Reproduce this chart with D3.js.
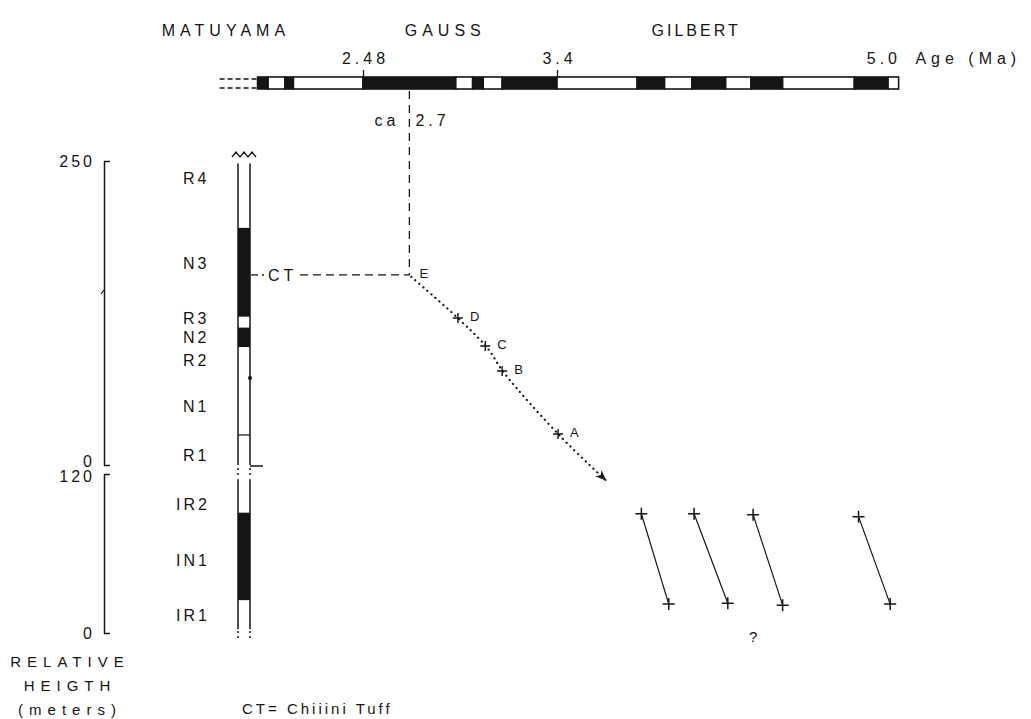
<!DOCTYPE html>
<html><head><meta charset="utf-8">
<script src="https://cdn.jsdelivr.net/npm/d3@7"></script>
<style>
body{margin:0;background:#fff}
svg{display:block}
text{font-family:"Liberation Sans",Arial,Helvetica,sans-serif;fill:#151515}
</style>
</head><body>
<svg id="chart" width="1031" height="719"></svg>
<script>
// ---------- DATA ----------
const epochNames = ["MATUYAMA", "GAUSS", "GILBERT"];
const epochAges = [1.83, 2.87, 4.06];

const ageTicks = [2.48, 3.4, 5.0];
const ageTickLabels = ["2.48", "3.4", "5.0"];
const ageUnit = "Age (Ma)";

// polarity time scale (Ma); 1 = normal (black), 0 = reversed (white)
const chronStart = [1.98, 2.03, 2.11, 2.15, 2.48, 2.92, 3.00, 3.05, 3.14, 3.40, 3.78, 3.91, 4.04, 4.20, 4.32, 4.47, 4.81, 4.97];
const chronEnd   = [2.03, 2.11, 2.15, 2.48, 2.92, 3.00, 3.05, 3.14, 3.40, 3.78, 3.91, 4.04, 4.20, 4.32, 4.47, 4.81, 4.97, 5.02];
const chronNormal = [1, 0, 1, 0, 1, 0, 1, 0, 1, 0, 1, 0, 1, 0, 1, 0, 1, 0];
const scaleExtendFrom = 1.80;

// upper section (relative height, m)
const upperTicks = [0, 250];
const upperLabels = ["R4", "N3", "R3", "N2", "R2", "N1", "R1"];
const upperLabelHeights = [236, 166, 121, 105, 86, 48, 8];
const upperNormalFrom = [97, 122];
const upperNormalTo = [113, 195];
const upperBoundary = [24.7];
const upperTop = 248;

// lower section (relative height, m)
const lowerTicks = [0, 120];
const lowerLabels = ["IR2", "IN1", "IR1"];
const lowerLabelHeights = [97.5, 54.8, 13.5];
const lowerNormalFrom = [24.8];
const lowerNormalTo = [90.8];
const lowerTop = 116;
const lowerBottom = 3;

// Chiiini Tuff correlation
const ctAge = 2.70;
const ctHeight = 156.3;
const ctLabel = "CT";
const ctAgeLabel = ["ca", "2.7"];

// correlation points (upper section)
const corrLabels = ["E", "D", "C", "B", "A"];
const corrAges = [2.70, 2.93, 3.06, 3.14, 3.405];
const corrHeights = [156.3, 120.9, 97.9, 77.3, 25.5];
const trendEndAge = 3.63;
const trendEndHeight = -12.3;

// lower section pairs
const pairTopAges = [3.80, 4.05, 4.33, 4.83];
const pairTopHeights = [90, 90, 89.3, 87.8];
const pairBotAges = [3.93, 4.21, 4.47, 4.98];
const pairBotHeights = [21.8, 22.5, 21.0, 21.8];
const unknownAge = 4.33, unknownHeight = -2.5;

const yTitle = ["RELATIVE", "HEIGTH", "(meters)"];
const footnote = "CT= Chiiini Tuff";

// ---------- SCALES ----------
const svg = d3.select("#chart");
const ink = "#151515";
const x = d3.scaleLinear().domain([2.48, 3.4]).range([363, 557]);
const yU = d3.scaleLinear().domain([0, 250]).range([465, 161]);
const yL = d3.scaleLinear().domain([0, 120]).range([633, 474]);

const barTop = 77, barH = 12;
const colX = 238, colW = 12;
const axisX = 104;

// ---------- EPOCH NAMES ----------
svg.append("g").selectAll("text").data(epochNames).join("text")
  .attr("x", (d, i) => x(epochAges[i])).attr("y", 36)
  .attr("text-anchor", "middle").style("font-size", "16px")
  .style("letter-spacing", (d, i) => i === 2 ? "3px" : "5px")
  .text(d => d);

// ---------- AGE AXIS ----------
const ageAxis = d3.axisTop(x).tickValues(ageTicks)
  .tickFormat((d, i) => ageTickLabels[i]).tickSizeInner(7).tickSizeOuter(0).tickPadding(6);
const ga = svg.append("g").attr("transform", `translate(0,${barTop})`).call(ageAxis);
ga.select(".domain").remove();
ga.selectAll(".tick line").attr("stroke", ink).attr("stroke-width", 1.3)
  .attr("opacity", (d, i) => i === ageTicks.length - 1 ? 0 : 1);
ga.selectAll(".tick text").attr("fill", ink).style("font-size", "16px").style("letter-spacing", "4px")
  .attr("font-family", null)
  .attr("dx", (d, i) => i === ageTicks.length - 1 ? -11 : 2);
svg.append("text").attr("x", x(5.0) + 21).attr("y", barTop - 13)
  .style("font-size", "16px").style("letter-spacing", "5px").text(ageUnit);

// ---------- POLARITY BAR ----------
const chrons = chronStart.map((s, i) => ({s, e: chronEnd[i], n: chronNormal[i]}));
svg.append("g").selectAll("rect").data(chrons).join("rect")
  .attr("x", d => x(d.s)).attr("y", barTop)
  .attr("width", d => x(d.e) - x(d.s)).attr("height", barH)
  .attr("fill", d => d.n ? ink : "#fff")
  .attr("stroke", ink).attr("stroke-width", 1.6);
[barTop + 2, barTop + barH - 1].forEach(yy => {
  svg.append("line").attr("x1", x(scaleExtendFrom)).attr("x2", x(chronStart[0]) - 1)
    .attr("y1", yy).attr("y2", yy).attr("stroke", ink).attr("stroke-width", 1.6)
    .attr("stroke-dasharray", "5,3");
});

// ---------- CT correlation dashed lines ----------
const xE = x(ctAge), yE = yU(ctHeight);
svg.append("line").attr("x1", xE).attr("x2", xE).attr("y1", barTop + barH + 2).attr("y2", yE)
  .attr("stroke", ink).attr("stroke-width", 1.3).attr("stroke-dasharray", "8,6");
svg.append("text").attr("x", xE - 10).attr("y", 126).attr("text-anchor", "end")
  .style("font-size", "16px").style("letter-spacing", "4px").text(ctAgeLabel[0]);
svg.append("text").attr("x", xE + 6).attr("y", 126)
  .style("font-size", "16px").style("letter-spacing", "4px").text(ctAgeLabel[1]);

svg.append("line").attr("x1", colX + colW + 1).attr("x2", colX + colW + 8).attr("y1", yE).attr("y2", yE)
  .attr("stroke", ink).attr("stroke-width", 1.3);
svg.append("circle").attr("cx", colX + colW + 13).attr("cy", yE).attr("r", 1).attr("fill", ink);
svg.append("text").attr("x", colX + colW + 18).attr("y", yE).attr("dy", "0.36em")
  .style("font-size", "16px").style("letter-spacing", "4px").text(ctLabel);
svg.append("line").attr("x1", colX + colW + 50).attr("x2", xE).attr("y1", yE).attr("y2", yE)
  .attr("stroke", ink).attr("stroke-width", 1.3).attr("stroke-dasharray", "8,5");

// ---------- LEFT AXES ----------
function bracket(scale, ticks, shift) {
  const ax = d3.axisLeft(scale).tickValues(ticks).tickSizeInner(-6).tickSizeOuter(0).tickPadding(9)
    .tickFormat(d3.format("d"));
  const g = svg.append("g").attr("transform", `translate(${axisX},0)`).call(ax);
  g.select(".domain").attr("stroke", ink).attr("stroke-width", 1.5);
  g.selectAll(".tick line").attr("stroke", ink).attr("stroke-width", 1.5);
  g.selectAll(".tick text").attr("fill", ink).attr("font-family", null)
    .attr("y", (d, i) => shift[i])
    .style("font-size", "16px").style("letter-spacing", "3px");
  return g;
}
bracket(yU, upperTicks, [-4, 0]);
bracket(yL, lowerTicks, [0, 2]);
// small mark on upper bracket
svg.append("line").attr("x1", axisX - 3).attr("x2", axisX).attr("y1", 294).attr("y2", 290)
  .attr("stroke", ink).attr("stroke-width", 1.2);

// ---------- SECTION COLUMN ----------
const col = svg.append("g");
// zigzag top
const zz = d3.range(7).map(i => [colX - 6 + i * 4, i % 2 ? 152 : 157]);
col.append("path").attr("d", d3.line()(zz)).attr("fill", "none").attr("stroke", ink).attr("stroke-width", 1.3);
// upper normal intervals
col.selectAll(".un").data(upperNormalFrom).join("rect").attr("class", "un")
  .attr("x", colX).attr("width", colW)
  .attr("y", (d, i) => yU(upperNormalTo[i])).attr("height", (d, i) => yU(d) - yU(upperNormalTo[i]))
  .attr("fill", ink);
// upper boundary lines
col.selectAll(".ub").data(upperBoundary).join("line").attr("class", "ub")
  .attr("x1", colX).attr("x2", colX + colW).attr("y1", d => yU(d)).attr("y2", d => yU(d))
  .attr("stroke", ink).attr("stroke-width", 1.2);
[colX, colX + colW].forEach(xx => {
  col.append("line").attr("x1", xx).attr("x2", xx).attr("y1", yU(upperTop)).attr("y2", yU(0))
    .attr("stroke", ink).attr("stroke-width", 1.5);
  col.append("line").attr("x1", xx).attr("x2", xx).attr("y1", yU(0) + 3).attr("y2", yL(lowerTop) - 1)
    .attr("stroke", ink).attr("stroke-width", 1.5).attr("stroke-dasharray", "2,3");
  col.append("line").attr("x1", xx).attr("x2", xx).attr("y1", yL(lowerTop)).attr("y2", yL(lowerBottom))
    .attr("stroke", ink).attr("stroke-width", 1.5);
  col.append("line").attr("x1", xx).attr("x2", xx).attr("y1", yL(lowerBottom) + 2).attr("y2", yL(lowerBottom) + 9)
    .attr("stroke", ink).attr("stroke-width", 1.5).attr("stroke-dasharray", "2,3");
});
col.append("line").attr("x1", colX + colW).attr("x2", colX + colW + 13).attr("y1", yU(0) + 1).attr("y2", yU(0) + 1)
  .attr("stroke", ink).attr("stroke-width", 1.5);
col.append("circle").attr("cx", colX + colW).attr("cy", yU(71.5)).attr("r", 2).attr("fill", ink);
// lower normal intervals
col.selectAll(".ln").data(lowerNormalFrom).join("rect").attr("class", "ln")
  .attr("x", colX).attr("width", colW)
  .attr("y", (d, i) => yL(lowerNormalTo[i])).attr("height", (d, i) => yL(d) - yL(lowerNormalTo[i]))
  .attr("fill", ink);

// column labels
svg.append("g").selectAll("text").data(upperLabels).join("text")
  .attr("x", 183).attr("y", (d, i) => yU(upperLabelHeights[i])).attr("dy", "0.36em")
  .style("font-size", "16px").style("letter-spacing", "3px").text(d => d);
svg.append("g").selectAll("text").data(lowerLabels).join("text")
  .attr("x", 176).attr("y", (d, i) => yL(lowerLabelHeights[i])).attr("dy", "0.36em")
  .style("font-size", "16px").style("letter-spacing", "3px").text(d => d);

// ---------- CORRELATION TREND ----------
const defs = svg.append("defs");
defs.append("marker").attr("id", "arr").attr("viewBox", "0 0 10 10").attr("refX", 9).attr("refY", 5)
  .attr("markerWidth", 11).attr("markerHeight", 11).attr("markerUnits", "userSpaceOnUse").attr("orient", "auto")
  .append("path").attr("d", "M0,1 L10,5 L0,9 L3,5 Z").attr("fill", ink);

const trendPts = corrAges.map((a, i) => [x(a) + 2, yU(corrHeights[i]) + 2]);
trendPts.push([x(trendEndAge), yU(trendEndHeight)]);
svg.append("path").attr("d", d3.line().curve(d3.curveCatmullRom)(trendPts))
  .attr("fill", "none").attr("stroke", ink).attr("stroke-width", 2.2)
  .attr("stroke-linecap", "round").attr("stroke-dasharray", "0.1,5.2");
const pA = trendPts[trendPts.length - 2], pEnd = trendPts[trendPts.length - 1];
svg.append("path").attr("d", d3.line()([[pA[0] + (pEnd[0] - pA[0]) * 0.85, pA[1] + (pEnd[1] - pA[1]) * 0.85], pEnd]))
  .attr("fill", "none").attr("stroke", "none").attr("marker-end", "url(#arr)");

const crossPath = s => `M${-s},0H${s}M0,${-s}V${s}`;
svg.append("g").selectAll("path").data(corrAges.slice(1)).join("path")
  .attr("transform", (d, i) => `translate(${x(d)},${yU(corrHeights[i + 1])})`)
  .attr("d", crossPath(5)).attr("stroke", ink).attr("stroke-width", 1.4).attr("fill", "none");
svg.append("g").selectAll("text").data(corrLabels).join("text")
  .attr("x", (d, i) => x(corrAges[i]) + (i === 0 ? 10 : 12))
  .attr("y", (d, i) => yU(corrHeights[i]) - 2).attr("dy", "0.36em")
  .style("font-size", "13px").text(d => d);

// ---------- LOWER PAIRS ----------
const pairs = pairTopAges.map((a, i) => ({a1: a, h1: pairTopHeights[i], a2: pairBotAges[i], h2: pairBotHeights[i]}));
const gp = svg.append("g");
gp.selectAll("line").data(pairs).join("line")
  .attr("x1", d => x(d.a1)).attr("y1", d => yL(d.h1)).attr("x2", d => x(d.a2)).attr("y2", d => yL(d.h2))
  .attr("stroke", ink).attr("stroke-width", 1.2);
gp.selectAll(".ct").data(pairs.flatMap(d => [[d.a1, d.h1], [d.a2, d.h2]])).join("path")
  .attr("transform", d => `translate(${x(d[0])},${yL(d[1])})`)
  .attr("d", crossPath(6)).attr("stroke", ink).attr("stroke-width", 1.5).attr("fill", "none");
svg.append("text").attr("x", x(unknownAge)).attr("y", yL(unknownHeight)).attr("dy", "0.36em")
  .attr("text-anchor", "middle").style("font-size", "15px").text("?");

// ---------- TITLES ----------
svg.append("g").selectAll("text").data(yTitle).join("text")
  .attr("x", 70).attr("y", (d, i) => 667 + i * 24).attr("text-anchor", "middle")
  .style("font-size", "15px").style("letter-spacing", "6px").text(d => d);
svg.append("text").attr("x", 242).attr("y", 714)
  .style("font-size", "15px").style("letter-spacing", "3px").text(footnote);
</script>
</body></html>
